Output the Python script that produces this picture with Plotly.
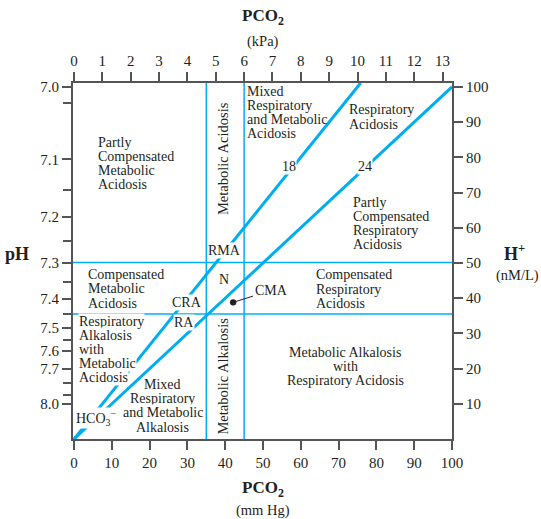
import numpy as np
import plotly.graph_objects as go

# Bicarbonate isopleths (mmol/L): [H+] (nM/L) = 24 * PCO2 (mm Hg) / [HCO3-]
hco3_levels = [18, 24]
# Limits of the normal region
pco2_limits = [35, 45]          # mm Hg
ph_limits = [7.30, 7.45]
# Axis ticks
mmhg_ticks = list(range(0, 101, 10))
kpa_ticks = list(range(0, 14))
hplus_ticks = list(range(10, 101, 10))
ph_labelled = [7.0, 7.1, 7.2, 7.3, 7.4, 7.5, 7.6, 7.7, 8.0]
ph_minor = [7.02, 7.15, 7.25, 7.35, 7.45, 7.55, 7.8, 7.9]
KPA_TO_MMHG = 7.50062

X_MIN, X_MAX = -0.27, 100
Y_MIN, Y_TOP = 0, 101.1

BLUE = "#00aeef"
INK = "#231f20"
AXIS = "#555555"
SERIF = "Liberation Serif"
LABEL_SIZE = 14


def h_from_ph(ph):
    return 10 ** (9 - ph)


fig = go.Figure()

# Isopleth lines through the origin
for level in hco3_levels:
    p_end = min(X_MAX, Y_TOP * level / 24)
    p = np.array([0.0, p_end])
    fig.add_trace(go.Scatter(x=p, y=24 * p / level, mode="lines",
                             line=dict(color=BLUE, width=3),
                             hoverinfo="skip", showlegend=False))

# Normal-range boundaries
for pc in pco2_limits:
    fig.add_trace(go.Scatter(x=[pc, pc], y=[Y_MIN, Y_TOP], mode="lines",
                             line=dict(color=BLUE, width=1.5),
                             hoverinfo="skip", showlegend=False))
for ph in ph_limits:
    h = h_from_ph(ph)
    fig.add_trace(go.Scatter(x=[X_MIN, X_MAX], y=[h, h], mode="lines",
                             line=dict(color=BLUE, width=1.5),
                             hoverinfo="skip", showlegend=False))

# Anchor traces for the secondary (kPa / pH) axes
fig.add_trace(go.Scatter(x=[None], y=[None], xaxis="x2", yaxis="y2",
                         showlegend=False, hoverinfo="skip"))
fig.add_trace(go.Scatter(x=[None], y=[None], xaxis="x", yaxis="y3",
                         showlegend=False, hoverinfo="skip"))


def block(lines, x, y, anchor="left", size=LABEL_SIZE, gap=14, bg=None,
          angle=0):
    n = len(lines)
    for i, line in enumerate(lines):
        fig.add_annotation(x=x, y=y, xref="x", yref="y", text=line,
                           showarrow=False, xanchor=anchor, yanchor="middle",
                           yshift=((n - 1) / 2 - i) * gap, textangle=angle,
                           font=dict(family=SERIF, size=size, color=INK),
                           bgcolor=bg, borderpad=0)


W = "white"
block(["Partly", "Compensated", "Metabolic", "Acidosis"], 6.1, 78.3)
block(["Metabolic Acidosis"], 39.6, 79.7, anchor="center", angle=-90,
      size=14.5)
block(["Mixed", "Respiratory", "and Metabolic", "Acidosis"], 45.4, 92.8)
block(["Respiratory", "Acidosis"], 72.5, 91.5, gap=15)
block(["18"], 56.9, 77.4, anchor="center", bg=W)
block(["24"], 77.0, 77.4, anchor="center", bg=W)
block(["Partly", "Compensated", "Respiratory", "Acidosis"], 73.5, 61.2)
block(["RMA"], 39.7, 53.6, anchor="center", bg=W)
block(["N"], 39.7, 45.3, anchor="center")
block(["Compensated", "Metabolic", "Acidosis"], 3.4, 42.6, gap=14.5)
block(["CRA"], 29.9, 38.8, anchor="center", bg=W)
block(["RA"], 29.1, 33.1, anchor="center", bg=W)
block(["Compensated", "Respiratory", "Acidosis"], 63.8, 42.5, gap=14.5)
block(["Respiratory", "Alkalosis", "with", "Metabolic", "Acidosis"],
      1.06, 25.4, gap=14, bg=W)
block(["Metabolic Alkalosis"], 39.4, 18.0, anchor="center", angle=-90,
      size=14.5)
block(["Metabolic Alkalosis", "with", "Respiratory Acidosis"], 71.7, 20.7,
      anchor="center", gap=14)
block(["Mixed", "Respiratory", "and Metabolic", "Alkalosis"], 23.5, 9.5,
      anchor="center", gap=14.3, bg=W)
block(["HCO<sub>3</sub><sup>\u2212</sup>"], 5.8, 6.1, anchor="center", bg=W)

# CMA pointer
fig.add_annotation(x=42.1, y=38.8, xref="x", yref="y", text="CMA",
                   showarrow=True, ax=38, ay=-12, arrowhead=6, arrowsize=1.6,
                   arrowwidth=1, arrowcolor=INK, standoff=0,
                   font=dict(family=SERIF, size=LABEL_SIZE, color=INK))


# Axis titles
def title(text, px, py, size, bold=False):
    fig.add_annotation(x=(px - 73) / 379, y=(439 - py) / 356,
                       xref="paper", yref="paper", showarrow=False,
                       text=f"<b>{text}</b>" if bold else text,
                       xanchor="center", yanchor="middle",
                       font=dict(family=SERIF, size=size, color=INK))


title("PCO<sub>2</sub>", 263, 17, 17, bold=True)
title("(kPa)", 263, 41, 14.5)
title("PCO<sub>2</sub>", 263, 489, 17, bold=True)
title("(mm Hg)", 263, 510, 14.5)
title("pH", 17, 254, 18, bold=True)
title("H<sup>+</sup>", 514, 252, 18, bold=True)
title("(nM/L)", 517, 275, 14.5)

tick_font = dict(family=SERIF, size=15, color=INK)
axis_common = dict(showgrid=False, zeroline=False, showline=True,
                   linecolor=AXIS, linewidth=2, ticks="outside",
                   ticklen=9, tickwidth=1.5, tickcolor=AXIS,
                   tickfont=tick_font, fixedrange=True)

fig.update_layout(
    width=541, height=519,
    margin=dict(l=73, r=89, t=83, b=80),
    paper_bgcolor="white", plot_bgcolor="white",
    xaxis=dict(range=[X_MIN, X_MAX], tickmode="array", tickvals=mmhg_ticks,
               side="bottom", anchor="y", **axis_common),
    xaxis2=dict(range=[X_MIN, X_MAX], tickmode="array",
                tickvals=[k * KPA_TO_MMHG for k in kpa_ticks],
                ticktext=[str(k) for k in kpa_ticks],
                side="top", overlaying="x", anchor="y", **axis_common),
    yaxis=dict(range=[Y_MIN, Y_TOP], tickmode="array", tickvals=hplus_ticks,
               side="right", anchor="x", **axis_common),
    yaxis2=dict(range=[Y_MIN, Y_TOP], tickmode="array",
                tickvals=[h_from_ph(v) for v in ph_labelled],
                ticktext=[f"{v:.1f}" for v in ph_labelled],
                side="left", overlaying="y", anchor="x", **axis_common),
    # unlabelled intermediate pH ticks
    yaxis3=dict(range=[Y_MIN, Y_TOP], tickmode="array",
                tickvals=[h_from_ph(v) for v in ph_minor],
                showticklabels=False, side="left", overlaying="y",
                anchor="x", showgrid=False, zeroline=False, showline=False,
                ticks="outside", ticklen=9, tickwidth=1.5, tickcolor=AXIS,
                fixedrange=True),
)

fig.write_html("out.html")
